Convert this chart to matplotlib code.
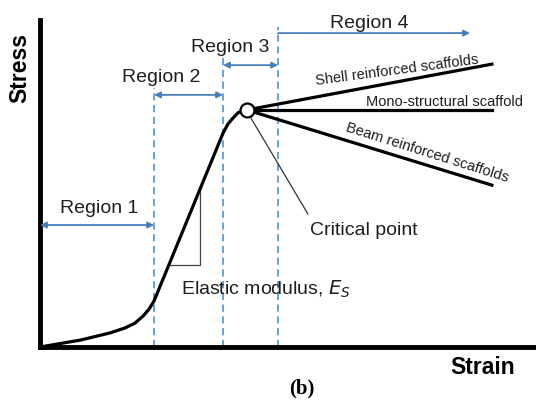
import numpy as np
import matplotlib.pyplot as plt

plt.rcParams['font.family'] = ['Liberation Sans', 'DejaVu Sans']

# stress-strain curve up to the critical point (arbitrary units)
strain = [0, 8.1, 14.1, 17.1, 19.15, 20.8, 22.0, 23.0,
          36.9, 37.9, 38.9, 39.9, 40.9, 41.7]
stress = [0, 2.1, 4.3, 5.8, 7.3, 9.5, 11.6, 14.1,
          65.4, 68.2, 70.0, 71.6, 72.3, 72.5]

# region boundaries along the strain axis and tops of the dashed markers
region_edges = [0, 23.0, 36.9, 48.0]
edge_tops = [79.2, 89.9, 97.9]
region_names = ['Region 1', 'Region 2', 'Region 3', 'Region 4']
region_arrow_y = [37.3, 77.1, 86.2, 96.0]
region4_end = 86.7

# post-critical branches
branch_names = ['Shell reinforced scaffolds', 'Mono-structural scaffold',
                'Beam reinforced scaffolds']
branch_end_strain = 91.1
branch_end_stress = [86.5, 72.5, 49.5]

crit_strain, crit_stress = strain[-1], stress[-1]

line_blue = '#5b9bd5'
arrow_blue = '#4a7ebb'
txt = '#1e1e1e'

fig = plt.figure(figsize=(5.36, 4.0), dpi=100)
ax = fig.add_axes([40 / 536, 53 / 400, 496 / 536, 327 / 400])
ax.set_xlim(0, 100)
ax.set_ylim(0, 100)
ax.set_xticks([])
ax.set_yticks([])
for side in ['top', 'right']:
    ax.spines[side].set_visible(False)
for side in ['left', 'bottom']:
    ax.spines[side].set_linewidth(3.5)
    ax.spines[side].set_capstyle('projecting')
ax.patch.set_alpha(0)

# dashed region markers
for x, top in zip(region_edges[1:], edge_tops):
    ax.plot([x, x], [0, top], color=line_blue, lw=1.3, dashes=(4, 2.5),
            clip_on=False, zorder=1)

# region arrows
for i in range(3):
    ax.annotate('', xy=(region_edges[i + 1], region_arrow_y[i]),
                xytext=(region_edges[i], region_arrow_y[i]),
                arrowprops=dict(arrowstyle='<|-|>', color=arrow_blue, lw=1.3,
                                mutation_scale=9, shrinkA=0, shrinkB=0),
                annotation_clip=False)
ax.annotate('', xy=(region4_end, region_arrow_y[3]),
            xytext=(region_edges[3], region_arrow_y[3]),
            arrowprops=dict(arrowstyle='-|>', color=arrow_blue, lw=1.3,
                            mutation_scale=9, shrinkA=0, shrinkB=0),
            annotation_clip=False)

label_pos = [(11.9, 41.0), (24.4, 81.1), (38.3, 90.3), (66.3, 97.5)]
for name, (x, y) in zip(region_names, label_pos):
    ax.text(x, y, name, ha='center', va='baseline', fontsize=14, color=txt,
            clip_on=False)

# main curve
ax.plot(strain, stress, color='black', lw=2.3, solid_capstyle='round',
        solid_joinstyle='round', zorder=3)

# elastic modulus triangle
tri_low, tri_x = 25.0, 32.3
x_low = np.interp(tri_low, stress, strain)
y_high = np.interp(tri_x, strain, stress)
ax.plot([x_low, tri_x, tri_x], [tri_low, tri_low, y_high], color='#444444',
        lw=0.9, zorder=2)
ax.text(28.4, 15.9, 'Elastic modulus, $E_S$', fontsize=14, color=txt,
        ha='left', va='baseline')

# branches beyond the critical point
for s_end in branch_end_stress:
    ax.plot([crit_strain, branch_end_strain], [crit_stress, s_end],
            color='black', lw=2.3, zorder=3, clip_on=False)

ax.text(71.9, 84.6, branch_names[0], fontsize=10.5, color=txt, rotation=7.5,
        ha='center', va='center', rotation_mode='anchor')
ax.text(81.5, 73.7, branch_names[1], fontsize=10.5, color=txt,
        ha='center', va='baseline', clip_on=False)
ax.text(78.0, 59.3, branch_names[2], fontsize=10.5, color=txt, rotation=-17.5,
        ha='center', va='center', rotation_mode='anchor')

# critical point
ax.plot([crit_strain + 0.6, 54.0], [crit_stress - 1.9, 40.7], color='#333333',
        lw=0.9, zorder=2)
ax.plot([crit_strain], [crit_stress], 'o', ms=10, mfc='white', mec='black',
        mew=1.6, zorder=5)
ax.text(54.4, 34.3, 'Critical point', fontsize=14, color=txt,
        ha='left', va='baseline')

# axis titles
fig.text(20 / 536, 1 - 68 / 400, 'Stress', rotation=90, fontsize=16.5,
         fontweight='bold', ha='center', va='center')
fig.text(483 / 536, 1 - 367 / 400, 'Strain', fontsize=16.5,
         fontweight='bold', ha='center', va='center')
fig.text(302 / 536, 1 - 388 / 400, '(b)', fontsize=15, fontweight='bold',
         family='Liberation Serif', ha='center', va='center')

fig.savefig('out.png', dpi=100)
